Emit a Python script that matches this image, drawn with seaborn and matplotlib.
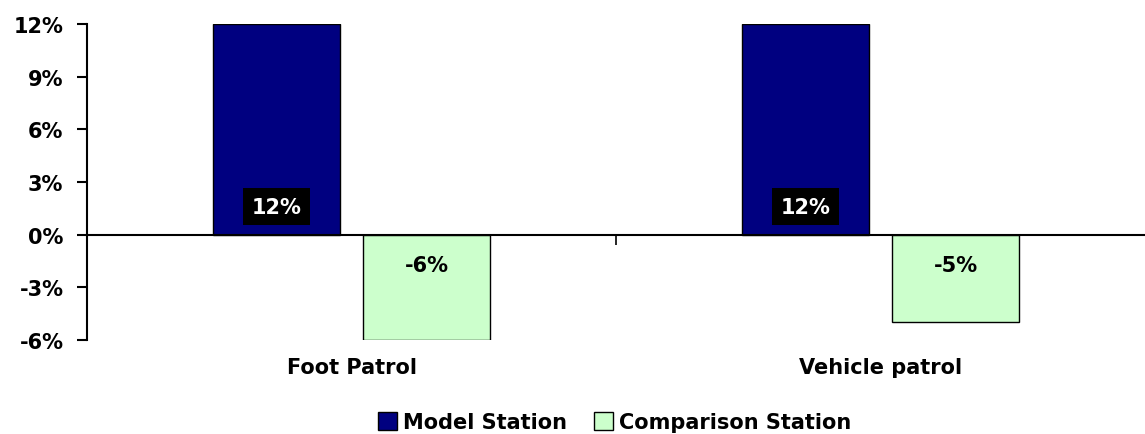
import matplotlib
matplotlib.use("Agg")
import matplotlib.pyplot as plt
import matplotlib.transforms as mtransforms
import seaborn as sns
import pandas as pd
from matplotlib.patches import Patch

categories = ["Foot Patrol", "Vehicle patrol"]
series = ["Model Station", "Comparison Station"]
model_vals = [12, 12]
comparison_vals = [-6, -5]
yticks = [-6, -3, 0, 3, 6, 9, 12]
colors = ["#000080", "#CCFFCC"]

rows = []
for c, m, v in zip(categories, model_vals, comparison_vals):
    rows.append({"cat": c, "series": series[0], "val": m})
    rows.append({"cat": c, "series": series[1], "val": v})
df = pd.DataFrame(rows)

sns.set_style("white")
plt.rcParams["font.family"] = ["DejaVu Sans"]
plt.rcParams["font.weight"] = "bold"
plt.rcParams["text.color"] = "black"
plt.rcParams["xtick.color"] = "black"
plt.rcParams["ytick.color"] = "black"
plt.rcParams["axes.labelcolor"] = "black"

FS = 15

fig = plt.figure(figsize=(11.45, 4.35), dpi=100)
ax = fig.add_axes([0.076, 0.216, 0.924, 0.7265])

sns.barplot(data=df, x="cat", y="val", hue="series", palette=colors,
            width=0.568, gap=0.155, edgecolor="black", linewidth=1.0,
            ax=ax, legend=False, saturation=1)

ax.set_xlim(-0.5, 1.5)
ax.set_ylim(-6, 12)
ax.set_yticks(yticks)
ax.set_yticklabels([f"{t}%" for t in yticks], fontsize=FS, fontweight="bold",
                   color="black")
ax.tick_params(axis="y", direction="out", length=7, width=1.5, left=True, pad=10)

for s in ["top", "right"]:
    ax.spines[s].set_visible(False)
ax.spines["left"].set_linewidth(1.5)
ax.spines["left"].set_color("black")
ax.spines["bottom"].set_position(("data", 0))
ax.spines["bottom"].set_linewidth(1.5)
ax.spines["bottom"].set_color("black")
ax.set_xticks([0.5])
ax.set_xticklabels([""])
ax.tick_params(axis="x", direction="out", length=7, width=1.2, bottom=True)
ax.set_xlabel("")
ax.set_ylabel("")

# category labels below plot
trans = mtransforms.blended_transform_factory(ax.transData, ax.transAxes)
for i, c in enumerate(categories):
    ax.text(i, -0.085, c, transform=trans, ha="center", va="center",
            fontsize=FS, fontweight="bold", color="black")

# data labels
for i, (m, v) in enumerate(zip(model_vals, comparison_vals)):
    ax.text(i - 0.142, 1.6, f"{m}%", ha="center", va="center", color="white",
            fontsize=FS, fontweight="bold",
            bbox=dict(facecolor="black", edgecolor="none", pad=6))
    ax.text(i + 0.142, -1.7, f"{v}%", ha="center", va="center", color="black",
            fontsize=FS, fontweight="bold")

handles = [Patch(facecolor=colors[0], edgecolor="black"),
           Patch(facecolor=colors[1], edgecolor="black")]
fig.legend(handles, series, loc="center", bbox_to_anchor=(0.537, 0.027),
           ncol=2, frameon=False, prop={"size": FS, "weight": "bold"},
           handlelength=0.9, handleheight=0.9, handletextpad=0.3,
           columnspacing=1.3)

fig.savefig("out.png", dpi=100)
